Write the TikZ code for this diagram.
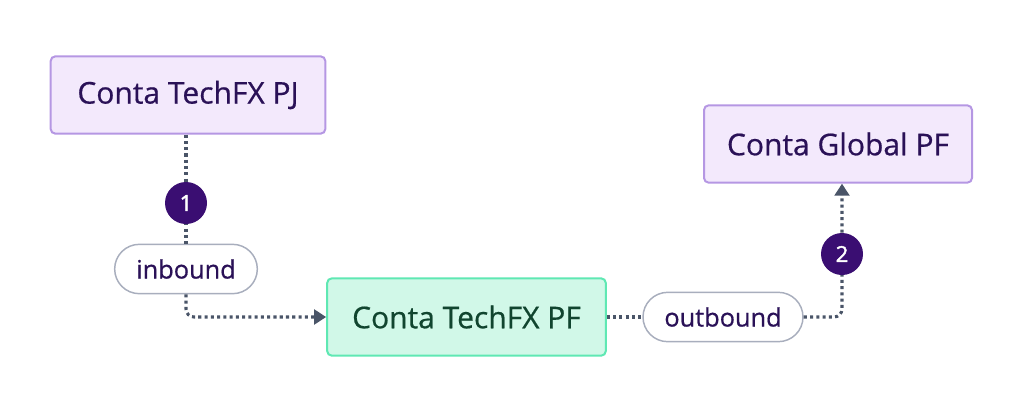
\documentclass[tikz,border=0pt]{standalone}
\usepackage{fontspec}
\setmainfont{Open Sans}[FakeBold=0.6,AutoFakeBold=1.8]
\usetikzlibrary{arrows.meta,shapes.misc}
\definecolor{pjfill}{HTML}{F3E9FC}
\definecolor{pjdraw}{HTML}{B597E3}
\definecolor{pjtext}{HTML}{2A1157}
\definecolor{pffill}{HTML}{D1F8E8}
\definecolor{pfdraw}{HTML}{5FE8B3}
\definecolor{pftext}{HTML}{11452F}
\definecolor{badge}{HTML}{3A0E72}
\definecolor{pilldraw}{HTML}{A8AEBD}
\definecolor{linecol}{HTML}{4A5568}
\tikzset{
  acct/.style={draw=pjdraw, fill=pjfill, line width=1.5pt, rounded corners=3.5pt,
    text=pjtext, font=\fontsize{22.5}{26}\selectfont, inner sep=0pt},
  pfacct/.style={acct, draw=pfdraw, fill=pffill, text=pftext},
  pill/.style={rounded rectangle, draw=pilldraw, fill=white, line width=1.1pt,
    text=pjtext, font=\fontsize{19}{22}\selectfont, inner sep=0pt},
  badgecirc/.style={circle, fill=badge, text=white, minimum size=31.5pt, inner sep=0pt,
    font=\fontsize{16.5}{18}\selectfont\bfseries},
  conn/.style={draw=linecol, line width=2.3pt, dash pattern=on 2.3pt off 2.4pt, rounded corners=6pt},
  arr/.style={conn, -{Triangle[length=9pt,width=11pt,fill=linecol]}}
}
\begin{document}
\begin{tikzpicture}[x=0.75pt,y=-0.75pt]
\useasboundingbox (0,0) rectangle (1024,411);
\node[acct, minimum width=206pt, minimum height=58pt] (pj) at (188,95) {Conta TechFX PJ};
\node[acct, minimum width=201pt, minimum height=58pt] (gl) at (838,144) {Conta Global PF};
\node[pfacct, minimum width=209pt, minimum height=58pt] (pf) at (466.5,317) {Conta TechFX PF};
\node[pill, minimum width=107pt, minimum height=37pt] (inb) at (186,269) {inbound};
\node[pill, minimum width=120pt, minimum height=37pt] (outb) at (723,317) {outbound};
\coordinate (c1pos) at (186,203);
\coordinate (c2pos) at (842,254);
\draw[conn] (c1pos |- pj.south) -- (inb.north);
\draw[arr] (inb.south) -- (inb.south |- pf.west) -- (pf.west);
\draw[conn] (pf.east) -- (outb.west);
\draw[arr] (outb.east) -- (outb.east -| c2pos) -- (c2pos |- gl.south);
\node[badgecirc] (c1) at (c1pos) {1};
\node[badgecirc] (c2) at (c2pos) {2};
\end{tikzpicture}
\end{document}
